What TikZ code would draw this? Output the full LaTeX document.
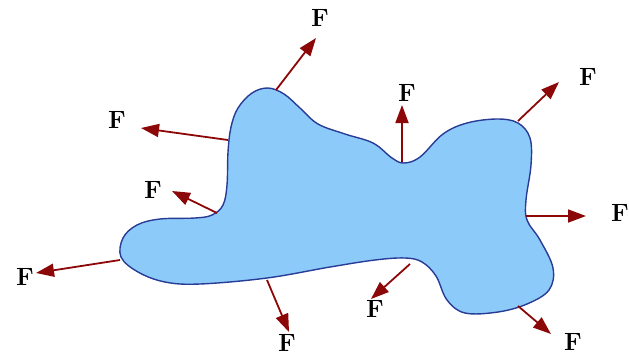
\documentclass[tikz,border=0pt]{standalone}
\usetikzlibrary{arrows.meta}
\definecolor{forcered}{RGB}{140,8,8}
\definecolor{blobfill}{RGB}{140,202,250}
\definecolor{blobline}{RGB}{40,60,150}
\tikzset{
  force/.style={draw=forcered, line width=1.8pt, -{Triangle[length=18pt,width=13pt]}, forcered},
  flabel/.style={font=\fontsize{25}{28}\selectfont\bfseries, inner sep=0pt},
  blob/.style={draw=blobline, line width=1.4pt, fill=blobfill}
}
\begin{document}
\begin{tikzpicture}[x=1pt,y=-1pt]
\useasboundingbox (0,0) rectangle (629,360);

\draw[blob] plot[smooth cycle, tension=0.6] coordinates {
  (268,88) (284,94) (300,108) (318,124) (345,134) (373,143) (392,158) (404,163)
  (420,157) (443,134) (467,123) (497,119) (518,123) (530,138) (531,165)
  (526,200) (527,220) (540,240) (553,268) (549,290) (527,304) (498,312)
  (465,313) (447,300) (436,276) (422,262) (405,258) (375,260) (330,267)
  (267,278) (200,284) (165,282) (138,272) (121,257) (123,238) (137,225)
  (160,219) (195,218) (212,215) (223,205) (227,185) (228,152) (231,127)
  (238,108) (252,93)};

% forces
\coordinate (s1) at (276,90);  \coordinate (t1) at (316,38);
\coordinate (s2) at (228,140); \coordinate (t2) at (141,128);
\coordinate (s3) at (217,213); \coordinate (t3) at (172,191);
\coordinate (s4) at (120,260); \coordinate (t4) at (36,273);
\coordinate (s5) at (267,280); \coordinate (t5) at (289,332);
\coordinate (s6) at (402,162); \coordinate (t6) at (402,105);
\coordinate (s7) at (518,121); \coordinate (t7) at (559,82);
\coordinate (s8) at (526,216); \coordinate (t8) at (586,216);
\coordinate (s9) at (518,306); \coordinate (t9) at (551,334);
\coordinate (s10) at (410,264); \coordinate (t10) at (371,299);

\foreach \i in {1,...,10}
  \draw[force] (s\i) -- (t\i);

\node[flabel] (f1) at (320,18) {F};
\node[flabel] (f2) at (117,120) {F};
\node[flabel] (f3) at (153,190) {F};
\node[flabel] (f4) at (25,277) {F};
\node[flabel] (f5) at (287,343) {F};
\node[flabel] (f6) at (407,93) {F};
\node[flabel] (f7) at (588,77) {F};
\node[flabel] (f8) at (620,213) {F};
\node[flabel] (f9) at (573,342) {F};
\node[flabel] (f10) at (375,309) {F};
\end{tikzpicture}
\end{document}
